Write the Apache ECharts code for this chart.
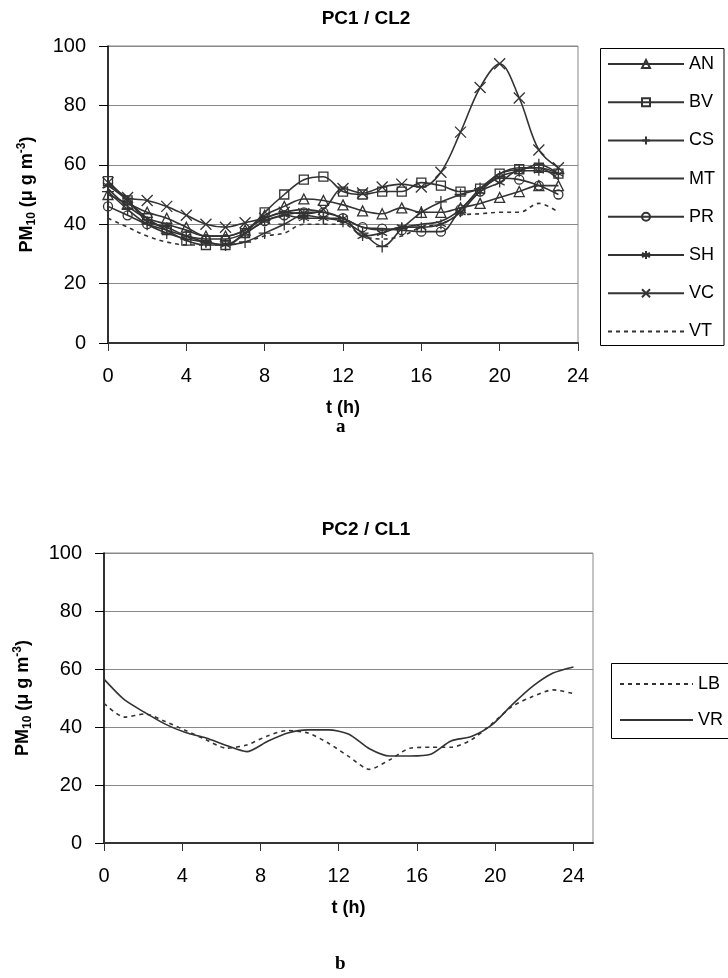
<!DOCTYPE html>
<html><head><meta charset="utf-8">
<script src="https://cdn.jsdelivr.net/npm/echarts@6/dist/echarts.min.js"></script>
<style>html,body{margin:0;padding:0;background:#fff}#c{width:728px;height:978px}</style>
</head><body><div id="c"></div>
<script>
// ---------- data: panel a (PC1 / CL2) ----------
const hoursA = [0,1,2,3,4,5,6,7,8,9,10,11,12,13,14,15,16,17,18,19,20,21,22,23];
const AN = [50,47,44,42,39,36,36,38,43,46,48.5,48,46.5,44.5,43.5,45.5,44,44,45.5,47,49,51,53,53];
const BV = [54.5,48,42,38,34.5,33,33,37,44,50,55,56,51,50,51,51,54,53,51,52,57,58.5,59,57];
const CS = [51,45,40,37,35,34,33,34,37,40,43,42,41,37,32.5,38.5,44,47.5,50,52,56,58,60,57];
const MT = [52,46,42,40,38,36,36,38,42,44,45,44,42,39,38,39,40,41,45,52,57,59,59,55];
const PR = [46,43,40,38,36,35,35,37,41,43,44,44,42,39,38.5,38,37.5,37.5,45,51,55.5,55,53,50];
const SH = [53,48,41,39,36,34,33,37,41,43,42,42,42,36,37,39,39,40,44,51,54,58,58,57];
const VC = [54,49,48,46,43,40,39,40.5,42,44,43.5,45,52,50.5,52.5,53.5,52.5,57.5,71,86,94,82.5,65,59];
const VT = [42,39,36,34,33,33,33,34,36,37,40,40,40,36,35,36,39,40,43,43.5,44,44,47,44];
// ---------- data: panel b (PC2 / CL1) ----------
const hoursB = [0,1.04,2.09,3.13,4.17,5.22,6.26,7.3,8.35,9.39,10.43,11.48,12.52,13.57,14.61,15.65,16.7,17.74,18.78,19.83,20.87,21.91,22.96,24];
const LB = [48.2,43.4,44.5,41.9,38.8,35.6,32.7,33.8,36.9,38.8,37.9,34.4,29.8,25.4,28.7,32.7,33,33,35.6,41.1,47.1,50.5,52.8,51.5];
const VR = [56.5,49.4,45,41,38.1,36.2,33.6,31.5,35,37.9,39,39,37.5,32.5,30,30,30.6,35.2,36.7,40.7,47.7,54,58.6,60.7];
// ---------- ticks ----------
const yTicks = [0,20,40,60,80,100];
const xTicks = [0,4,8,12,16,20,24];

const FONT = 'Liberation Sans';
const INK = '#333';
const pair = (xs, ys) => xs.map((x, i) => [x, ys[i]]);

const SYM = {
  plus: 'path://M5,0L5,10M0,5L10,5',
  star: 'path://M5,0L5,10M0.67,2.5L9.33,7.5M0.67,7.5L9.33,2.5',
  cross: 'path://M0,0L10,10M0,10L10,0'
};
const clear = 'rgba(255,255,255,0)';

function lineSeries(name, xs, ys, idx, symbol, size, dashed, smooth) {
  return {
    name, type: 'line', xAxisIndex: idx, yAxisIndex: idx,
    data: pair(xs, ys), smooth: smooth,
    symbol: symbol, symbolSize: size, showSymbol: symbol !== 'none',
    lineStyle: { color: INK, width: 1.6, type: dashed ? [4, 4] : 'solid' },
    itemStyle: { color: clear, borderColor: INK, borderWidth: symbol === 'none' ? 0 : 1.3 },
    emphasis: { disabled: true }, animation: false
  };
}

function xAxis(idx, max) {
  return {
    type: 'value', gridIndex: idx, min: 0, max: max, interval: 4,
    axisLine: { show: true, onZero: false, lineStyle: { color: INK, width: 2 } },
    axisTick: { show: true, length: 8, lineStyle: { color: INK, width: 1 }, customValues: xTicks },
    axisLabel: { fontSize: 20, color: '#000', fontFamily: FONT, margin: 23, customValues: xTicks },
    splitLine: { show: false },
    name: 't (h)', nameLocation: 'middle', nameGap: 56,
    nameTextStyle: { fontSize: 18, fontWeight: 'bold', color: '#000', fontFamily: FONT }
  };
}
function yAxis(idx) {
  return {
    type: 'value', gridIndex: idx, min: 0, max: 100, interval: 20,
    axisLine: { show: true, lineStyle: { color: '#000', width: 1.5 } },
    axisTick: { show: true, length: 9, lineStyle: { color: '#000', width: 1 } },
    axisLabel: { fontSize: 20, color: '#000', fontFamily: FONT, margin: 22 },
    splitLine: { show: true, lineStyle: { color: '#888', width: 1 } },
    name: '{a|PM}{s|10}{a| (μ g m}{p|-3}{a|)}',
    nameLocation: 'middle', nameGap: 70, nameRotate: 90,
    nameTextStyle: {
      rich: {
        a: { fontSize: 18, fontWeight: 'bold', color: '#000', fontFamily: FONT, lineHeight: 22 },
        s: { fontSize: 12, fontWeight: 'bold', color: '#000', fontFamily: FONT, lineHeight: 12, verticalAlign: 'bottom' },
        p: { fontSize: 12, fontWeight: 'bold', color: '#000', fontFamily: FONT, lineHeight: 12, verticalAlign: 'top' }
      }
    }
  };
}

const legendText = { fontSize: 18, color: '#000', fontFamily: FONT };

const option = {
  backgroundColor: '#fff',
  animation: false,
  title: [
    { text: 'PC1 / CL2', left: 366, top: 9, textAlign: 'center', padding: 0,
      textStyle: { fontSize: 19, fontWeight: 'bold', color: '#000', fontFamily: FONT } },
    { text: 'PC2 / CL1', left: 366, top: 520, textAlign: 'center', padding: 0,
      textStyle: { fontSize: 19, fontWeight: 'bold', color: '#000', fontFamily: FONT } }
  ],
  grid: [
    { left: 108, top: 46, width: 470, height: 297, show: true, borderColor: '#888', borderWidth: 1, containLabel: false },
    { left: 104, top: 553, width: 489, height: 290, show: true, borderColor: '#888', borderWidth: 1, containLabel: false }
  ],
  xAxis: [xAxis(0, 24), xAxis(1, 25)],
  yAxis: [yAxis(0), yAxis(1)],
  legend: [
    { orient: 'vertical', left: 601, top: 48, padding: [7, 6, 6, 6],
      itemWidth: 76, itemHeight: 10, itemGap: 20.2, selectedMode: false,
      textStyle: legendText,
      data: ['AN','BV','CS','MT','PR','SH','VC','VT'] },
    { orient: 'vertical', left: 612, top: 663, padding: [12, 6, 6, 7],
      itemWidth: 73, itemHeight: 10, itemGap: 18, selectedMode: false,
      textStyle: legendText,
      data: ['LB','VR'] }
  ],
  graphic: [
    { type: 'rect', shape: { x: 600.5, y: 48.5, width: 123.5, height: 297 },
      style: { fill: 'none', stroke: '#000', lineWidth: 1 }, silent: true },
    { type: 'rect', shape: { x: 611.5, y: 663.5, width: 130, height: 75 },
      style: { fill: 'none', stroke: '#000', lineWidth: 1 }, silent: true },
    { type: 'text', left: 336, top: 418, style: { text: 'a', fontSize: 19, fontWeight: 'bold', fontFamily: 'Liberation Serif', fill: '#000' } },
    { type: 'text', left: 335, top: 955, style: { text: 'b', fontSize: 19, fontWeight: 'bold', fontFamily: 'Liberation Serif', fill: '#000' } }
  ],
  series: [
    lineSeries('AN', hoursA, AN, 0, 'triangle', 10, false, 0.35),
    lineSeries('BV', hoursA, BV, 0, 'rect', 9, false, 0.35),
    lineSeries('CS', hoursA, CS, 0, SYM.plus, 12, false, 0.35),
    lineSeries('MT', hoursA, MT, 0, 'none', 0, false, 0.35),
    lineSeries('PR', hoursA, PR, 0, 'circle', 9, false, 0.35),
    lineSeries('SH', hoursA, SH, 0, SYM.star, 10, false, 0.35),
    lineSeries('VC', hoursA, VC, 0, SYM.cross, 11, false, 0.35),
    lineSeries('VT', hoursA, VT, 0, 'none', 0, true, 0.35),
    lineSeries('LB', hoursB, LB, 1, 'none', 0, true, 0.25),
    lineSeries('VR', hoursB, VR, 1, 'none', 0, false, 0.25)
  ]
};
const chart = echarts.init(document.getElementById('c'));
chart.setOption(option);
</script></body></html>
